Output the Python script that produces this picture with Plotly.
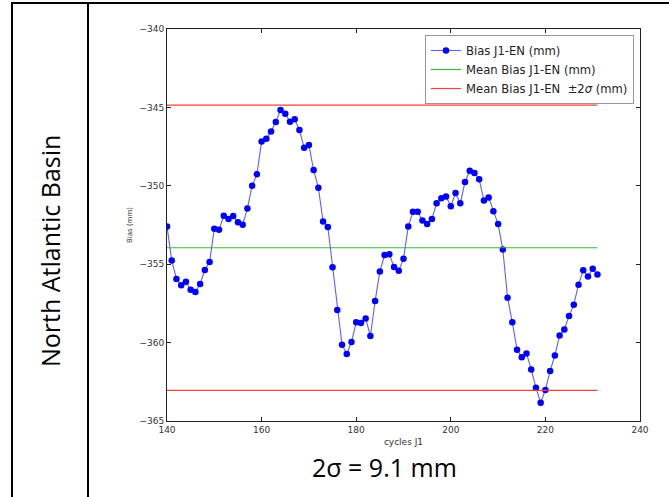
import plotly.graph_objects as go

# ---------------- data ----------------
cycles = list(range(140, 232))
bias = [
    -352.59, -354.76, -355.94, -356.35, -356.12, -356.63, -356.78, -356.26, -355.37, -354.86,
    -352.74, -352.80, -351.91, -352.12, -351.93, -352.33, -352.48, -351.44, -349.99, -349.27,
    -347.17, -347.00, -346.53, -345.93, -345.17, -345.40, -345.91, -345.76, -346.44, -347.57,
    -347.40, -349.00, -350.12, -352.28, -352.62, -355.20, -357.92, -360.13, -360.73, -359.96,
    -358.71, -358.75, -358.46, -359.58, -357.35, -355.46, -354.42, -354.37, -355.18, -355.41,
    -354.65, -352.60, -351.66, -351.66, -352.21, -352.44, -352.12, -351.12, -350.80, -350.68,
    -351.31, -350.46, -351.12, -349.76, -349.04, -349.18, -349.59, -350.93, -350.74, -351.63,
    -352.44, -354.07, -357.14, -358.71, -360.45, -360.94, -360.69, -361.71, -362.88, -363.83,
    -363.02, -361.81, -360.82, -359.54, -359.16, -358.30, -357.58, -356.31, -355.39, -355.78,
    -355.29, -355.65,
]
mean_bias = -353.95
two_sigma = 9.1
x_ticks = [140, 160, 180, 200, 220, 240]
y_ticks = [-365, -360, -355, -350, -345, -340]
row_label = "North Atlantic Basin"
sigma_label = "2σ = 9.1 mm"

# ---------------- figure ----------------
W, H = 669, 497
ML, MR, MT, MB = 167, 29, 29, 76
pw = W - ML - MR
ph = H - MT - MB


def px(xp):
    return (xp - ML) / pw


def py(yp):
    return 1 - (yp - MT) / ph


x0, x1 = cycles[0], cycles[-1]

fig = go.Figure()
fig.add_trace(go.Scatter(
    x=cycles, y=bias, mode="lines+markers",
    name="Bias J1-EN (mm)",
    line=dict(color="rgba(40,40,255,0.75)", width=1.1),
    marker=dict(color="#0000ff", size=6.5, line=dict(width=0)),
))
fig.add_trace(go.Scatter(
    x=[x0, x1], y=[mean_bias, mean_bias], mode="lines",
    name="Mean Bias J1-EN (mm)",
    line=dict(color="#3cb43c", width=1.2),
))
fig.add_trace(go.Scatter(
    x=[x0, x1, None, x0, x1],
    y=[mean_bias + two_sigma, mean_bias + two_sigma, None,
       mean_bias - two_sigma, mean_bias - two_sigma],
    mode="lines", connectgaps=False,
    name="Mean Bias J1-EN  ±2<i>σ</i> (mm)",
    line=dict(color="#ff3c3c", width=1.2),
))

axis_common = dict(
    showgrid=False, zeroline=False, showline=True, linecolor="#222", linewidth=1,
    mirror="ticks", ticks="inside", ticklen=4, tickcolor="#222", tickwidth=1,
    tickfont=dict(family="DejaVu Sans", size=9, color="#333"),
)

fig.update_layout(
    width=W, height=H,
    margin=dict(l=ML, r=MR, t=MT, b=MB, pad=0),
    paper_bgcolor="white", plot_bgcolor="white",
    showlegend=True,
    legend=dict(
        x=px(634), y=py(35), xanchor="right", yanchor="top",
        bgcolor="white", bordercolor="#999", borderwidth=1,
        font=dict(family="DejaVu Sans", size=11.6, color="#222"),
        tracegroupgap=0, itemwidth=30,
    ),
    xaxis=dict(range=[140, 240], tickvals=x_ticks,
               title=dict(text="cycles J1", standoff=4,
                          font=dict(family="DejaVu Sans", size=9, color="#333")),
               **axis_common),
    yaxis=dict(range=[-365, -340], tickvals=y_ticks,
               title=dict(text="Bias (mm)", standoff=6,
                          font=dict(family="DejaVu Sans", size=7, color="#333")),
               **axis_common),
    shapes=[
        dict(type="line", xref="paper", yref="paper", x0=px(11), x1=px(669), y0=py(3), y1=py(3),
             line=dict(color="black", width=2)),
        dict(type="line", xref="paper", yref="paper", x0=px(12), x1=px(12), y0=py(3), y1=py(497),
             line=dict(color="black", width=2)),
        dict(type="line", xref="paper", yref="paper", x0=px(88), x1=px(88), y0=py(3), y1=py(497),
             line=dict(color="black", width=2)),
    ],
    annotations=[
        dict(text=row_label, xref="paper", yref="paper", x=px(50), y=py(251),
             showarrow=False, textangle=-90, xanchor="center", yanchor="middle",
             font=dict(family="Open Sans", size=25, color="black")),
        dict(text=sigma_label, xref="paper", yref="paper", x=px(384), y=py(467),
             showarrow=False, xanchor="center", yanchor="middle",
             font=dict(family="Open Sans", size=25, color="black")),
    ],
)

fig.write_html(
    "out.html",
    config={"displayModeBar": False},
    post_script="document.body.style.margin='0';document.body.style.overflow='hidden';",
)
